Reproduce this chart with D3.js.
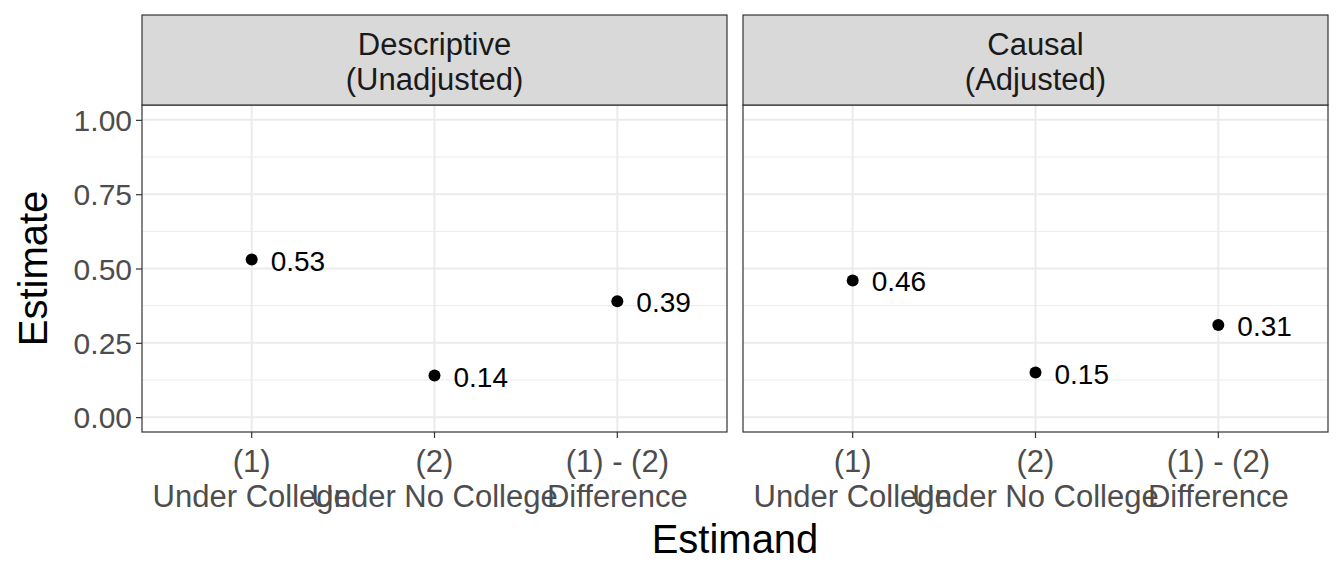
<!DOCTYPE html>
<html><head><meta charset="utf-8">
<script src="https://cdn.jsdelivr.net/npm/d3@7"></script>
<style>body{margin:0;background:#fff}text{font-family:"Liberation Sans",Arial,sans-serif}</style>
</head><body><div id="chart"></div>
<script>
const facets = ["Descriptive\n(Unadjusted)", "Causal\n(Adjusted)"];
const estimands = ["(1)\nUnder College", "(2)\nUnder No College", "(1) - (2)\nDifference"];
const descriptive = [0.53, 0.14, 0.39];
const causal = [0.46, 0.15, 0.31];
const series = [descriptive, causal];
const yTicks = [0, 0.25, 0.5, 0.75, 1];
const yMinor = [0.125, 0.375, 0.625, 0.875];

const width = 1344, height = 576;
const panels = [{x0: 142, x1: 727}, {x0: 743, x1: 1328}];
const stripTop = 15, plotTop = 105, plotBottom = 432;

const svg = d3.select("#chart").append("svg")
    .attr("width", width).attr("height", height);

const y = d3.scaleLinear().domain([-0.05, 1.05]).range([plotBottom, plotTop]);

panels.forEach((p, pi) => {
    const x = d3.scaleLinear().domain([0.4, 3.6]).range([p.x0, p.x1]);
    const g = svg.append("g");

    // Grid.
    yMinor.forEach(v => g.append("line").attr("x1", p.x0).attr("x2", p.x1)
        .attr("y1", y(v)).attr("y2", y(v)).attr("stroke", "#ebebeb").attr("stroke-width", 1));
    yTicks.forEach(v => g.append("line").attr("x1", p.x0).attr("x2", p.x1)
        .attr("y1", y(v)).attr("y2", y(v)).attr("stroke", "#ebebeb").attr("stroke-width", 2));
    estimands.forEach((e, i) => g.append("line").attr("x1", x(i + 1)).attr("x2", x(i + 1))
        .attr("y1", plotTop).attr("y2", plotBottom).attr("stroke", "#ebebeb").attr("stroke-width", 2));

    // Points and labels.
    series[pi].forEach((v, i) => {
        g.append("circle").attr("cx", x(i + 1)).attr("cy", y(v)).attr("r", 6).attr("fill", "#000");
        g.append("text").attr("x", x(i + 1) + 19).attr("y", y(v) + 11)
            .attr("font-size", 28).attr("fill", "#000").text(v.toFixed(2));
    });

    // Border.
    g.append("rect").attr("x", p.x0).attr("y", plotTop).attr("width", p.x1 - p.x0)
        .attr("height", plotBottom - plotTop).attr("fill", "none").attr("stroke", "#333").attr("stroke-width", 1.2);

    // Strip.
    g.append("rect").attr("x", p.x0).attr("y", stripTop).attr("width", p.x1 - p.x0)
        .attr("height", plotTop - stripTop).attr("fill", "#d9d9d9").attr("stroke", "#333").attr("stroke-width", 1.2);
    facets[pi].split("\n").forEach((line, li) => g.append("text")
        .attr("x", (p.x0 + p.x1) / 2).attr("y", 55 + li * 35).attr("text-anchor", "middle")
        .attr("font-size", 31).attr("fill", "#1a1a1a").text(line));

    // X axis.
    estimands.forEach((e, i) => {
        g.append("line").attr("x1", x(i + 1)).attr("x2", x(i + 1))
            .attr("y1", plotBottom).attr("y2", plotBottom + 6).attr("stroke", "#333").attr("stroke-width", 1.2);
        e.split("\n").forEach((line, li) => g.append("text")
            .attr("x", x(i + 1)).attr("y", 472 + li * 35).attr("text-anchor", "middle")
            .attr("font-size", 31).attr("fill", "#4d4d4d").text(line));
    });
});

// Y axis on left panel.
const yAxis = svg.append("g").attr("transform", `translate(${panels[0].x0},0)`)
    .call(d3.axisLeft(y).tickValues(yTicks).tickFormat(d3.format(".2f")).tickSize(6).tickPadding(4));
yAxis.select(".domain").remove();
yAxis.selectAll(".tick line").attr("stroke", "#333").attr("stroke-width", 1.2);
yAxis.selectAll(".tick text").attr("font-size", 30).attr("fill", "#4d4d4d").attr("dy", "0.36em")
    .attr("font-family", "Liberation Sans, Arial, sans-serif");

svg.append("text").attr("transform", `translate(47,${(plotTop + plotBottom) / 2}) rotate(-90)`)
    .attr("text-anchor", "middle").attr("font-size", 40).attr("fill", "#000").text("Estimate");
svg.append("text").attr("x", (panels[0].x0 + panels[1].x1) / 2).attr("y", 553)
    .attr("text-anchor", "middle").attr("font-size", 40).attr("fill", "#000").text("Estimand");
</script></body></html>
